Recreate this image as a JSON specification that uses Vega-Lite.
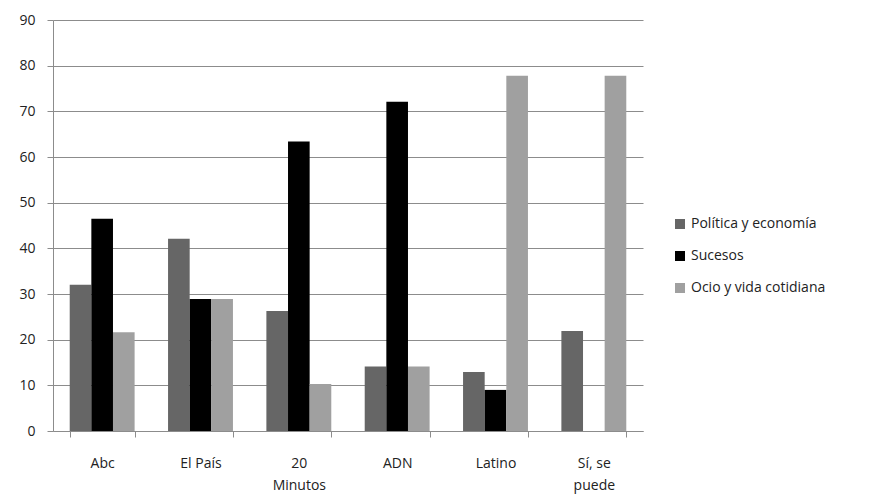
{
  "$schema": "https://vega.github.io/schema/vega-lite/v6.json",
  "width": 590,
  "height": 411,
  "autosize": "none",
  "padding": {"left": 53, "top": 20, "right": 232, "bottom": 70},
  "background": "white",
  "config": {
    "view": {"stroke": null},
    "font": "Open Sans"
  },
  "data": {
    "values": [
      {"medio": "Abc", "tema": "Política y economía", "valor": 32.0},
      {"medio": "Abc", "tema": "Sucesos", "valor": 46.5},
      {"medio": "Abc", "tema": "Ocio y vida cotidiana", "valor": 21.6},
      {"medio": "El País", "tema": "Política y economía", "valor": 42.1},
      {"medio": "El País", "tema": "Sucesos", "valor": 28.9},
      {"medio": "El País", "tema": "Ocio y vida cotidiana", "valor": 28.9},
      {"medio": "20 Minutos", "tema": "Política y economía", "valor": 26.3},
      {"medio": "20 Minutos", "tema": "Sucesos", "valor": 63.4},
      {"medio": "20 Minutos", "tema": "Ocio y vida cotidiana", "valor": 10.3},
      {"medio": "ADN", "tema": "Política y economía", "valor": 14.1},
      {"medio": "ADN", "tema": "Sucesos", "valor": 72.1},
      {"medio": "ADN", "tema": "Ocio y vida cotidiana", "valor": 14.1},
      {"medio": "Latino", "tema": "Política y economía", "valor": 12.9},
      {"medio": "Latino", "tema": "Sucesos", "valor": 9.0},
      {"medio": "Latino", "tema": "Ocio y vida cotidiana", "valor": 77.8},
      {"medio": "Sí, se puede", "tema": "Política y economía", "valor": 21.9},
      {"medio": "Sí, se puede", "tema": "Sucesos", "valor": 0},
      {"medio": "Sí, se puede", "tema": "Ocio y vida cotidiana", "valor": 77.8}
    ]
  },
  "mark": {"type": "bar"},
  "encoding": {
    "x": {
      "field": "medio",
      "type": "nominal",
      "sort": ["Abc", "El País", "20 Minutos", "ADN", "Latino", "Sí, se puede"],
      "scale": {"paddingInner": 0.34, "paddingOuter": 0.17},
      "axis": {
        "title": null,
        "labelAngle": 0,
        "tickBand": "extent",
        "domainColor": "#8c8c8c",
        "tickColor": "#8c8c8c",
        "tickSize": 6,
        "labelColor": "#222222",
        "labelFontSize": 14,
        "labelPadding": 19,
        "labelLineHeight": 22,
        "labelExpr": "datum.value == '20 Minutos' ? ['20', 'Minutos'] : datum.value == 'Sí, se puede' ? ['Sí, se', 'puede'] : datum.value"
      }
    },
    "xOffset": {
      "field": "tema",
      "type": "nominal",
      "sort": ["Política y economía", "Sucesos", "Ocio y vida cotidiana"],
      "scale": {"paddingInner": 0, "paddingOuter": 0}
    },
    "y": {
      "field": "valor",
      "type": "quantitative",
      "scale": {"domain": [0, 90], "nice": false},
      "axis": {
        "title": null,
        "values": [0, 10, 20, 30, 40, 50, 60, 70, 80, 90],
        "gridColor": "#8c8c8c",
        "gridWidth": 1,
        "domainColor": "#8c8c8c",
        "tickColor": "#8c8c8c",
        "tickSize": 6,
        "labelColor": "#222222",
        "labelFontSize": 14,
        "labelPadding": 12
      }
    },
    "color": {
      "field": "tema",
      "type": "nominal",
      "sort": ["Política y economía", "Sucesos", "Ocio y vida cotidiana"],
      "scale": {
        "domain": ["Política y economía", "Sucesos", "Ocio y vida cotidiana"],
        "range": ["#666666", "#000000", "#a0a0a0"]
      },
      "legend": {
        "title": null,
        "orient": "none",
        "legendX": 620,
        "legendY": 197,
        "symbolType": "square",
        "symbolSize": 100,
        "symbolStrokeWidth": 0,
        "labelFontSize": 14,
        "labelColor": "#222222",
        "rowPadding": 18,
        "labelOffset": 4
      }
    }
  }
}
